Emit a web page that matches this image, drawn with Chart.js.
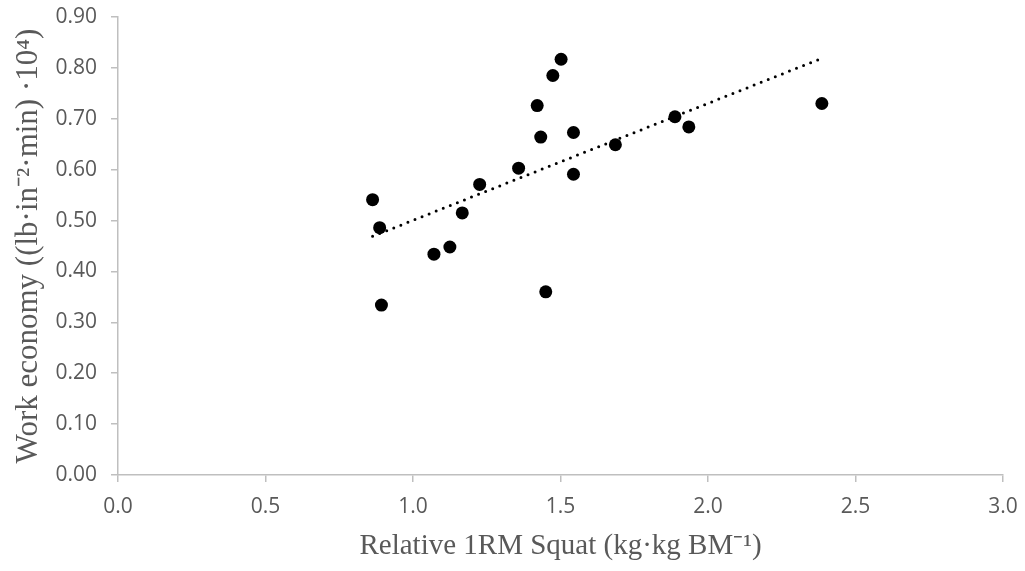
<!DOCTYPE html>
<html>
<head>
<meta charset="utf-8">
<script src="https://cdn.jsdelivr.net/npm/chart.js@4.4.1/dist/chart.umd.min.js"></script>
<style>
  body { margin: 0; background: #fff; }
  #wrap { width: 1025px; height: 571px; }
</style>
</head>
<body>
<div id="wrap"><canvas id="canv" width="1025" height="571"></canvas></div>
<script>
// valeurs
var squatRel = [0.863, 0.887, 0.893, 1.071, 1.125, 1.167, 1.226, 1.358, 1.421, 1.433, 1.450, 1.474, 1.502, 1.544, 1.544, 1.686, 1.888, 1.935, 2.386];
var economie = [0.541, 0.486, 0.334, 0.434, 0.448, 0.515, 0.571, 0.603, 0.726, 0.664, 0.360, 0.785, 0.817, 0.673, 0.591, 0.649, 0.704, 0.684, 0.730];

// droite de tendance (extrémités lues)
var tendanceX = [0.863, 2.386];
var tendanceY = [0.469, 0.819];

var xTicks = [0, 0.5, 1.0, 1.5, 2.0, 2.5, 3.0];
var yTicks = [0, 0.1, 0.2, 0.3, 0.4, 0.5, 0.6, 0.7, 0.8, 0.9];

var titreX = "Relative 1RM Squat (kg·kg BM⁻¹)";
var titreY = "Work economy ((lb·in⁻²·min) ·10⁴)";

var gris = '#bfbfbf';
var texte = '#595959';

function initialiseChart(){
  var points = squatRel.map(function(v, i){ return {x: v, y: economie[i]}; });
  var ligne = tendanceX.map(function(v, i){ return {x: v, y: tendanceY[i]}; });

  const data_chart = {
    datasets: [{
      type: 'line',
      data: ligne,
      borderColor: '#000',
      borderWidth: 3,
      borderDash: [0, 7.6],
      borderCapStyle: 'round',
      pointRadius: 0,
      fill: false
    }, {
      type: 'scatter',
      data: points,
      backgroundColor: '#000',
      borderWidth: 0,
      pointRadius: 6.5
    }]
  };
  drawChart(data_chart);
}

function drawChart(data_chart){
  const config_chart = {
    type: 'scatter',
    data: data_chart,
    options: {
      responsive: false,
      animation: false,
      layout: { padding: { top: 17, right: 22, left: 0, bottom: 0 } },
      plugins: { legend: { display: false }, tooltip: { enabled: false } },
      scales: {
        x: {
          type: 'linear',
          min: 0, max: 3,
          afterBuildTicks: function(s){ s.ticks = xTicks.map(function(v){ return {value: v}; }); },
          afterFit: function(s){ s.height = 96; s.paddingLeft = 0; s.paddingRight = 0; },
          border: { color: gris, width: 1.5 },
          grid: { drawOnChartArea: false, drawTicks: true, tickLength: 7, color: gris, lineWidth: 1.5 },
          ticks: {
            padding: 12,
            color: texte,
            font: { family: '"Open Sans"', size: 21 },
            callback: function(v){ return v.toFixed(1); }
          },
          title: {
            display: true,
            text: titreX,
            color: texte,
            font: { family: '"Liberation Serif"', size: 29 },
            padding: { bottom: 7 }
          }
        },
        y: {
          type: 'linear',
          min: 0, max: 0.9,
          afterBuildTicks: function(s){ s.ticks = yTicks.map(function(v){ return {value: v}; }); },
          afterFit: function(s){ s.width = 118; s.paddingTop = 0; s.paddingBottom = 0; },
          border: { color: gris, width: 1.5 },
          grid: { drawOnChartArea: false, drawTicks: true, tickLength: 7, color: gris, lineWidth: 1.5 },
          ticks: {
            padding: 14,
            color: texte,
            font: { family: '"Open Sans"', size: 21 },
            callback: function(v){ return v.toFixed(2); }
          },
          title: {
            display: true,
            text: titreY,
            color: texte,
            font: { family: '"Liberation Serif"', size: 31 },
            padding: { top: 10 }
          }
        }
      }
    }
  };
  var myChart = new Chart(document.getElementById('canv'), config_chart);
}

initialiseChart();
</script>
</body>
</html>
